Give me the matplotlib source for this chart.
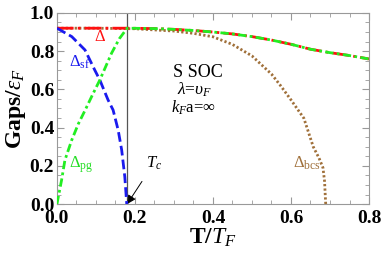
import matplotlib
matplotlib.use("Agg")
import matplotlib.pyplot as plt
import numpy as np

plt.rcParams["font.family"] = ["Liberation Serif", "DejaVu Serif"]
plt.rcParams["mathtext.fontset"] = "custom"
plt.rcParams["mathtext.rm"] = "Liberation Serif"
plt.rcParams["mathtext.it"] = "Liberation Serif:italic"
plt.rcParams["mathtext.bf"] = "Liberation Serif:bold"

# data
T_c = 0.18

T_delta = [0, 0.18, 0.25, 0.3, 0.35, 0.4, 0.45, 0.5, 0.55, 0.6, 0.65, 0.7, 0.75, 0.8]
delta = [0.92, 0.92, 0.918, 0.914, 0.908, 0.90, 0.89, 0.876, 0.858, 0.836, 0.81,
         0.792, 0.777, 0.759]

T_sf = [0, 0.038, 0.072, 0.097, 0.110, 0.131, 0.144, 0.157, 0.166, 0.174, 0.179]
delta_sf = [0.92, 0.876, 0.806, 0.701, 0.649, 0.545, 0.492, 0.387, 0.283, 0.143, 0.0]

T_pg = [0, 0.012, 0.0205, 0.038, 0.055, 0.072, 0.092, 0.110, 0.140, 0.160, 0.18,
        0.25, 0.3, 0.35, 0.4, 0.45, 0.5, 0.55, 0.6, 0.65, 0.7, 0.75, 0.8]
delta_pg = [0, 0.126, 0.23, 0.335, 0.42, 0.49, 0.575, 0.649, 0.789, 0.865, 0.92,
            0.918, 0.914, 0.908, 0.90, 0.89, 0.876, 0.858, 0.836, 0.81, 0.792,
            0.777, 0.759]

T_bcs = [0, 0.1, 0.2, 0.3, 0.35, 0.4, 0.45, 0.5, 0.55, 0.572, 0.6, 0.633, 0.657,
         0.672, 0.682, 0.686, 0.689]
delta_bcs = [0.92, 0.92, 0.917, 0.905, 0.893, 0.875, 0.835, 0.775, 0.68, 0.623,
             0.545, 0.449, 0.30, 0.24, 0.19, 0.12, 0.0]

x_ticks = [0.0, 0.2, 0.4, 0.6, 0.8]
y_ticks = [0.0, 0.2, 0.4, 0.6, 0.8, 1.0]

fig = plt.figure(figsize=(3.82, 2.58), dpi=100)
ax = fig.add_axes([0.149, 0.209, 0.817, 0.741])

ax.axvline(T_c, color="#555555", lw=0.9, zorder=1)

ax.plot(T_bcs, delta_bcs, color="#a0703a", lw=2.0, ls=(0, (0.8, 0.8)), zorder=2)
ax.plot(T_delta, delta, color="#ff1010", lw=2.0, ls=(0, (6, 1.5, 1, 1.5)), zorder=3)
ax.plot(T_sf, delta_sf, color="#1a1aee", lw=2.0, ls=(0, (3.5, 1.5)), zorder=4)
ax.plot(T_pg, delta_pg, color="#22ee22", lw=2.0, ls=(0, (3, 1.2, 1, 1.2)), zorder=5)

ax.text(0.110, 0.874, r"$\Delta$", color="#ff1010", fontsize=12, ha="center", va="center")
ax.text(0.059, 0.743, r"$\Delta_{\rm sf}$", color="#1a1aee", fontsize=12, ha="center", va="center")
ax.text(0.062, 0.204, r"$\Delta_{\rm pg}$", color="#22dd22", fontsize=12, ha="center", va="center")
ax.text(0.641, 0.215, r"$\Delta_{\rm bcs}$", color="#a0703a", fontsize=12, ha="center", va="center")

ax.text(0.362, 0.69, "S SOC", fontsize=13, ha="center", va="center")
ax.text(0.354, 0.60, r"$\lambda$=$\upsilon_F$", fontsize=12.5, ha="center", va="center")
ax.text(0.349, 0.503, r"$k_F$a=$\infty$", fontsize=12, ha="center", va="center")

ax.annotate(r"$T_c$", xy=(T_c, 0.0), xytext=(0.249, 0.215), fontsize=12,
            ha="center", va="center",
            arrowprops=dict(arrowstyle="-|>", color="black", lw=0.7,
                            shrinkA=6, shrinkB=0, mutation_scale=13))

ax.set_xlim(0, 0.8)
ax.set_ylim(0, 1.0)
ax.set_xticks(x_ticks)
ax.set_yticks(y_ticks)
ax.set_xticklabels([f"{v:.1f}" for v in x_ticks], fontweight="bold", fontsize=14)
ax.set_yticklabels([f"{v:.1f}" for v in y_ticks], fontweight="bold", fontsize=14)
ax.set_xticks(np.arange(0, 0.8001, 0.05), minor=True)
ax.set_yticks(np.arange(0, 1.0001, 0.05), minor=True)
ax.tick_params(which="both", direction="in", top=True, right=True, color="#999999")
ax.tick_params(which="major", length=5, width=0.8)
ax.tick_params(axis="x", which="major", pad=4)
ax.tick_params(axis="y", which="major", pad=2)
ax.tick_params(which="minor", length=3, width=0.6)
for s in ax.spines.values():
    s.set_color("#999999")
    s.set_linewidth(0.8)

ax.set_xlabel(r"T/$T_F$", fontweight="bold", fontsize=17, labelpad=0)
ax.set_ylabel(r"Gaps/$\varepsilon_F$", fontweight="bold", fontsize=17, labelpad=1)

fig.savefig("out.png", dpi=100)
